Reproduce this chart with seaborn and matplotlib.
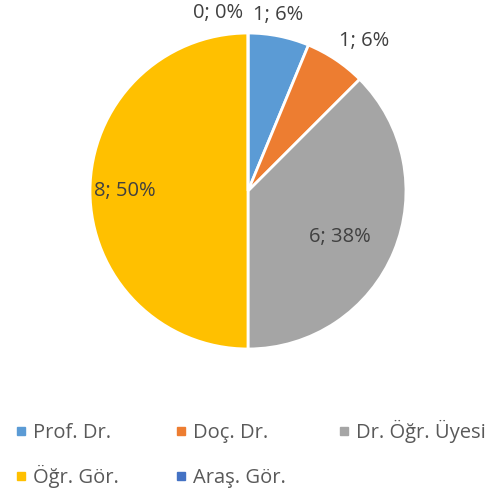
import numpy as np
import matplotlib
matplotlib.use("Agg")
import matplotlib.pyplot as plt
import seaborn as sns
from matplotlib.lines import Line2D

# Data
categories = ["Prof. Dr.", "Doç. Dr.", "Dr. Öğr. Üyesi", "Öğr. Gör.", "Araş. Gör."]
counts = [1, 1, 6, 8, 0]
colors = ["#5B9BD5", "#ED7D31", "#A5A5A5", "#FFC000", "#4472C4"]

# label placement (radius factor, angle nudge in degrees) per slice
label_radius = [1.13, 1.2, 0.65, 0.78, 1.14]
label_nudge = [1.5, -4, -4, 0, 9.5]

sns.set_theme(style="white")
plt.rcParams["font.family"] = ["Open Sans", "DejaVu Sans"]
FS = 14.5

fig = plt.figure(figsize=(4.95, 4.96), dpi=100)
ax = fig.add_axes([0.1818, 0.2964, 0.6384, 0.637])

wedges, _ = ax.pie(counts, colors=colors, startangle=90, counterclock=False,
                   radius=1, wedgeprops=dict(edgecolor="white", linewidth=2))
ax.set_xlim(-1, 1)
ax.set_ylim(-1, 1)
ax.set_aspect("equal")
ax.axis("off")

# data labels "value; percent"
total = sum(counts)
for i, w in enumerate(wedges):
    mid = (w.theta1 + w.theta2) / 2 + label_nudge[i]
    r = label_radius[i]
    x = r * np.cos(np.deg2rad(mid))
    y = r * np.sin(np.deg2rad(mid))
    pct = round(100 * counts[i] / total + 1e-9)
    ax.text(x, y, f"{counts[i]}; {pct:.0f}%", ha="center", va="center",
            fontsize=FS, color="#404040", clip_on=False)

# legend: 3 evenly spaced columns, filled row by row
handles = [Line2D([0], [0], marker="s", linestyle="", markersize=5.8,
                  markerfacecolor=c, markeredgecolor=c) for c in colors]
col_x = [15.5 / 495, 176 / 495, 339 / 495]
col_y = [0.147, 0.147, 0.153]
col_spacing = [1.1, 1.25, 1.25]
for j in range(3):
    idx = list(range(j, len(categories), 3))
    leg = fig.legend([handles[k] for k in idx], [categories[k] for k in idx],
                     loc="upper left", bbox_to_anchor=(col_x[j], col_y[j]),
                     frameon=False, fontsize=FS, labelcolor="#595959",
                     handlelength=0.5, handletextpad=0.35,
                     labelspacing=col_spacing[j],
                     borderpad=0, borderaxespad=0)

fig.savefig("out.png", dpi=100)
